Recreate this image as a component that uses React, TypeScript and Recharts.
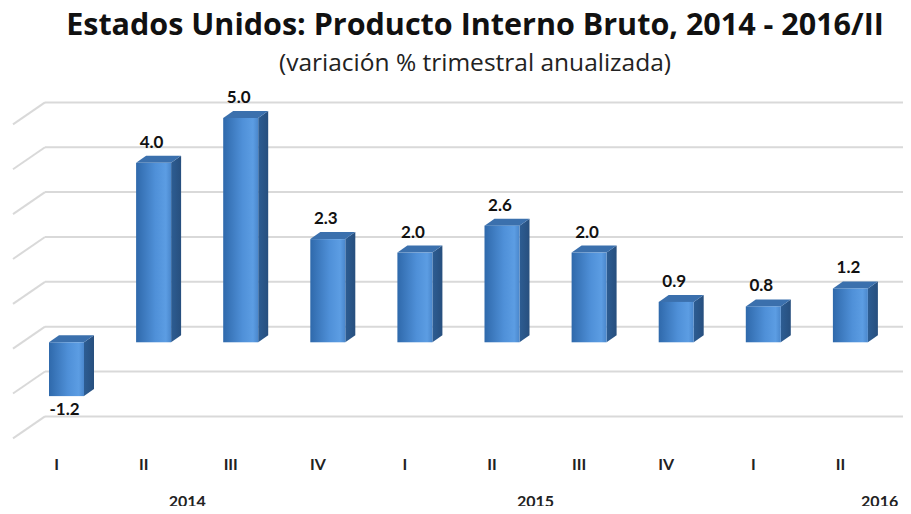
import { Bar, BarChart, CartesianGrid, LabelList, XAxis, YAxis } from 'recharts';

const quarters = ['I', 'II', 'III', 'IV', 'I', 'II', 'III', 'IV', 'I', 'II'];
const gdpGrowth = [-1.2, 4.0, 5.0, 2.3, 2.0, 2.6, 2.0, 0.9, 0.8, 1.2];
const valueTicks = [-2, -1, 0, 1, 2, 3, 4, 5];
// year label position, in category units (0 = first quarter)
const yearLabels = [
  { label: '2014', at: 1.5 },
  { label: '2015', at: 5.5 },
  { label: '2016', at: 9.45 },
];

const data = quarters.map((q, i) => ({ id: `${i}-${q}`, quarter: q, value: gdpGrowth[i] }));

const W = 911;
const H = 514;
const margin = { top: 118, right: 17, bottom: 52, left: 23 };
const band = (W - margin.left - margin.right) / quarters.length;
const FONT = 'Lato, "Open Sans", sans-serif';
const TITLE_FONT = '"Open Sans", Lato, sans-serif';

// bar depth (front face -> back face) and wall offset (front face -> back wall)
const DEPTH = { dx: 10, dy: -7 };
const WALL = { dx: 22, dy: -15.6 };
const FLOOR = { dx: -10, dy: 6.4 };

function Bar3D(props: any) {
  const { x, y, width, height } = props;
  const top = Math.min(y, y + height);
  const bottom = Math.max(y, y + height);
  const r = x + width;
  return (
    <g>
      <path
        d={`M${r},${top} L${r + DEPTH.dx},${top + DEPTH.dy} L${r + DEPTH.dx},${bottom + DEPTH.dy} L${r},${bottom} Z`}
        fill="url(#sideGrad)"
      />
      <path
        d={`M${x},${top} L${x + DEPTH.dx},${top + DEPTH.dy} L${r + DEPTH.dx},${top + DEPTH.dy} L${r},${top} Z`}
        fill="#3b70ad"
      />
      <rect x={x} y={top} width={width} height={bottom - top} fill="url(#frontGrad)" />
    </g>
  );
}

function ValueLabel(props: any) {
  const { x, y, width, height, value } = props;
  const top = Math.min(y, y + height);
  const bottom = Math.max(y, y + height);
  const neg = Number(value) < 0;
  return (
    <text
      x={x + width / 2 - 2}
      y={neg ? bottom + 19 : top - 15}
      textAnchor="middle"
      fontFamily={FONT}
      fontWeight={700}
      fontSize={17}
      fill="#111"
    >
      {Number(value).toFixed(1)}
    </text>
  );
}

function QuarterTick(props: any) {
  const { x, y, index } = props;
  const years = yearLabels.filter((yl) => Math.floor(yl.at) === index);
  return (
    <g>
      <text
        x={x + FLOOR.dx}
        y={y + 38}
        textAnchor="middle"
        fontFamily={FONT}
        fontWeight={700}
        fontSize={16}
        fill="#222"
      >
        {quarters[index]}
      </text>
      {years.map((yl) => (
        <text
          key={yl.label}
          x={x + FLOOR.dx + (yl.at - index) * band}
          y={y + 75}
          textAnchor="middle"
          fontFamily={FONT}
          fontWeight={700}
          fontSize={16}
          fill="#222"
        >
          {yl.label}
        </text>
      ))}
    </g>
  );
}

function WallLine(props: any) {
  const { x1, y1, x2 } = props;
  const by = y1 + WALL.dy;
  const bx = x1 + WALL.dx;
  return (
    <g key={props.key ?? `g-${y1}`}>
      <line x1={bx} y1={by} x2={x2 + margin.right} y2={by} stroke="#d9d9d9" strokeWidth={2} />
      <line x1={bx} y1={by} x2={x1 + FLOOR.dx} y2={y1 + FLOOR.dy} stroke="#d9d9d9" strokeWidth={2} />
    </g>
  );
}

export default function App() {
  return (
    <div style={{ position: 'relative', width: W, height: H, margin: -8, background: '#fff' }}>
      <svg width={W} height={90} style={{ position: 'absolute', left: 0, top: 0 }}>
        <defs>
          <linearGradient id="frontGrad" x1="0" y1="0" x2="1" y2="0">
            <stop offset="0%" stopColor="#2f69ab" />
            <stop offset="55%" stopColor="#4f90d8" />
            <stop offset="85%" stopColor="#5c9de3" />
            <stop offset="100%" stopColor="#4a87cc" />
          </linearGradient>
          <linearGradient id="sideGrad" x1="0" y1="0" x2="1" y2="0">
            <stop offset="0%" stopColor="#2d5d93" />
            <stop offset="100%" stopColor="#274f7e" />
          </linearGradient>
        </defs>
        <text x={475} y={35} textAnchor="middle" fontFamily={TITLE_FONT} fontWeight={700} fontSize={30.5} fill="#111">
          Estados Unidos: Producto Interno Bruto, 2014 - 2016/II
        </text>
        <text x={475} y={71} textAnchor="middle" fontFamily={TITLE_FONT} fontSize={24.5} fill="#222">
          (variación % trimestral anualizada)
        </text>
      </svg>
      <div style={{ position: 'absolute', left: 0, top: 0 }}>
        <BarChart width={W} height={H} data={data} margin={margin} barSize={35}>
          <CartesianGrid vertical={false} horizontal={(p: any) => <WallLine {...p} />} />
          <XAxis
            dataKey="id"
            axisLine={false}
            tickLine={false}
            tickSize={0}
            tickMargin={0}
            interval={0}
            tick={(p: any) => <QuarterTick {...p} />}
          />
          <YAxis hide domain={[-2, 5]} ticks={valueTicks} />
          <Bar dataKey="value" shape={(p: any) => <Bar3D {...p} />} isAnimationActive={false}>
            <LabelList dataKey="value" content={(p: any) => <ValueLabel {...p} />} />
          </Bar>
        </BarChart>
      </div>
    </div>
  );
}
